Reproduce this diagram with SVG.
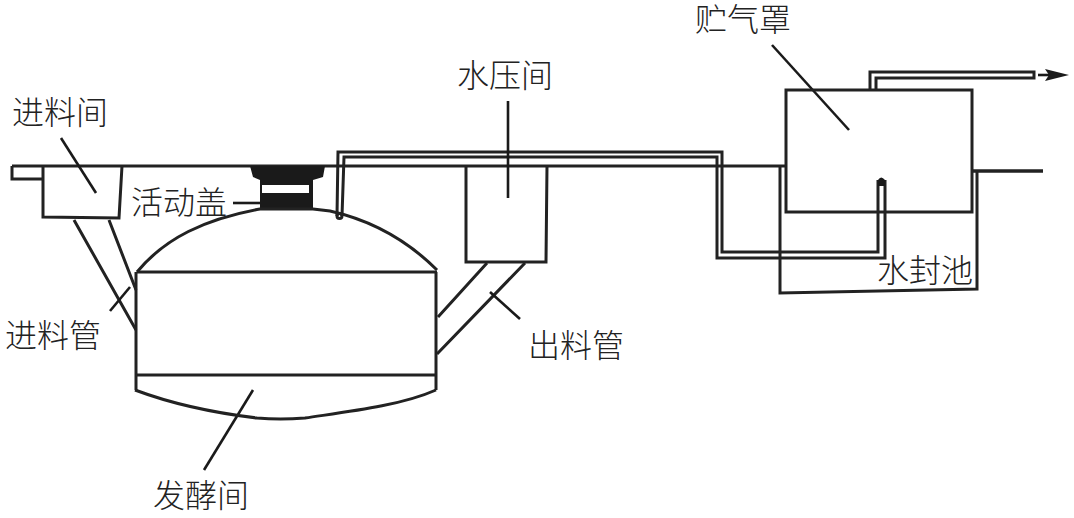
<svg xmlns="http://www.w3.org/2000/svg" width="1074" height="518" viewBox="0 0 1074 518">
<style>
text{font-family:"Liberation Serif","Noto Sans CJK SC","Noto Sans CJK JP",sans-serif;font-size:32px;font-weight:300;fill:#222}
.l{fill:none;stroke:#222;stroke-width:3;stroke-linejoin:miter}
.t{fill:none;stroke:#1a1a1a;stroke-width:2.6}
.k{fill:#1a1a1a;stroke:none}
</style>
<rect width="1074" height="518" fill="#fff"/>
<g id="connectors">
<path class="l" d="M74 220L136 330M109 220L136 290"/>
<path class="l" d="M487 263L438 317M525 263L437 354"/>
<path class="l" d="M12 166H786"/>
<path class="l" d="M337 216L338 152H722V252H878V180"/>
<path class="l" d="M342 216L344 157H717V258H885V180"/>
<circle class="l" cx="339.500" cy="216" r="2.500" stroke-width="2"/>
<path class="k" d="M878 180Q881 175 885 180V186H878Z"/>
<path class="l" d="M870 90V72H1034V78H876V90"/>
<path class="t" d="M1038 75H1056"/>
<path class="k" d="M1045 69L1069 75L1045 81L1049 75Z"/>
<path class="l" d="M972 171H1043" style="stroke-width:3.600"/>
<g id="leaders">
<path class="t" d="M61 138L96 193"/>
<path class="t" d="M110 311L130 287"/>
<path class="t" d="M233 203H260"/>
<path class="t" d="M508 101V198"/>
<path class="t" d="M490 292L520 319"/>
<path class="t" d="M253 390L204 470"/>
<path class="t" d="M772 45L849 130"/>
</g>
</g>
<g id="inlet-chamber">
<path class="l" d="M12 166V179H42"/>
<path class="l" d="M43 166V217L119 218L122 166"/>
<text x="12" y="124">进料间</text>
</g>
<g id="inlet-pipe-label"><text x="5" y="347">进料管</text></g>
<g id="cover">
<path class="k" d="M250 166H325L323 177L313 180V210H260V180L253 177Z"/>
<rect x="262" y="185" width="47" height="8" fill="#fff"/>
<text x="131" y="214">活动盖</text>
</g>
<g id="fermentation-chamber">
<path class="l" d="M137 272C165 238 205 219 260 209H313L330 211C370 220 405 238 437 270"/>
<path class="l" d="M137 272H437M136 272V390M436 272V390M135 375H436"/>
<path class="l" d="M135 390C175 405 215 413 257 418Q280 420 305 418C345 412 400 406 436 390"/>
<text x="153" y="507">发酵间</text>
</g>
<g id="pressure-chamber">
<path class="l" d="M466 166V262H546L547 166"/>
<text x="457" y="87">水压间</text>
</g>
<g id="outlet-pipe-label"><text x="528" y="357">出料管</text></g>
<g id="gas-holder">
<rect class="l" x="786" y="90" width="186" height="122"/>
<text x="695" y="31">贮气罩</text>
</g>
<g id="water-seal">
<path class="l" d="M780 167V293L977 289V171"/>
<text x="877" y="282">水封池</text>
</g>
</svg>
